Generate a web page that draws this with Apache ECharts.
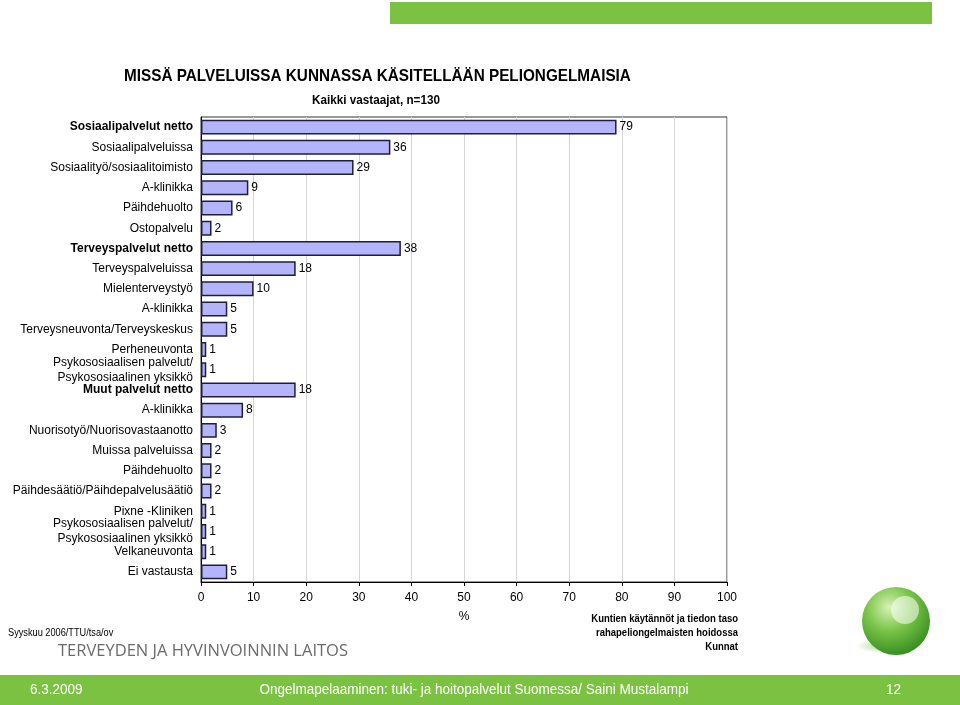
<!DOCTYPE html>
<html>
<head>
<meta charset="utf-8">
<script src="https://cdn.jsdelivr.net/npm/echarts@6/dist/echarts.min.js"></script>
<style>
  html, body { margin: 0; padding: 0; background: #fff; }
  #chart { width: 960px; height: 705px; }
</style>
</head>
<body>
<div id="chart"></div>
<script>
// palvelut (ylhäältä alas)
var categories = [
  'Sosiaalipalvelut netto',
  'Sosiaalipalveluissa',
  'Sosiaalityö/sosiaalitoimisto',
  'A-klinikka',
  'Päihdehuolto',
  'Ostopalvelu',
  'Terveyspalvelut netto',
  'Terveyspalveluissa',
  'Mielenterveystyö',
  'A-klinikka',
  'Terveysneuvonta/Terveyskeskus',
  'Perheneuvonta',
  'Psykososiaalisen palvelut/\nPsykososiaalinen yksikkö',
  'Muut palvelut netto',
  'A-klinikka',
  'Nuorisotyö/Nuorisovastaanotto',
  'Muissa palveluissa',
  'Päihdehuolto',
  'Päihdesäätiö/Päihdepalvelusäätiö',
  'Pixne -Kliniken',
  'Psykososiaalisen palvelut/\nPsykososiaalinen yksikkö',
  'Velkaneuvonta',
  'Ei vastausta'
];
// prosentit
var values = [79, 36, 29, 9, 6, 2, 38, 18, 10, 5, 5, 1, 1, 18, 8, 3, 2, 2, 2, 1, 1, 1, 5];
// lihavoidut "netto" rivit
var boldRows = [0, 6, 13];
var xTicks = [0, 10, 20, 30, 40, 50, 60, 70, 80, 90, 100];

var green = '#7cc242';
var narrow = '"Liberation Sans Narrow", "Liberation Sans"';
var myChart = echarts.init(document.getElementById('chart'));

myChart.setOption({
  animation: false,
  backgroundColor: '#fff',
  grid: {
    left: 201, right: 233, top: 117, bottom: 123,
    show: true, borderColor: '#333', borderWidth: 1
  },
  xAxis: {
    type: 'value',
    min: xTicks[0],
    max: xTicks[xTicks.length - 1],
    interval: 10,
    name: '%',
    nameLocation: 'middle',
    nameGap: 29,
    nameTextStyle: { fontFamily: 'Liberation Sans', fontSize: 12, color: '#000' },
    axisLine: { show: true, lineStyle: { color: '#000', width: 1 } },
    axisTick: { show: true, length: 4, lineStyle: { color: '#000' } },
    axisLabel: { fontFamily: 'Liberation Sans', fontSize: 12, color: '#000', margin: 10 },
    splitLine: { show: true, lineStyle: { color: '#d4d4d4', width: 1 } }
  },
  yAxis: {
    type: 'category',
    inverse: true,
    data: categories,
    axisLine: { show: true, lineStyle: { color: '#000', width: 1 } },
    axisTick: { show: false },
    axisLabel: {
      interval: 0,
      margin: 8,
      formatter: function (v, i) {
        return boldRows.indexOf(i) >= 0 ? '{b|' + v + '}' : '{n|' + v + '}';
      },
      rich: {
        n: { fontFamily: 'Liberation Sans', fontSize: 12, color: '#000', lineHeight: 15, align: 'right' },
        b: { fontFamily: 'Liberation Sans', fontSize: 12, fontWeight: 'bold', color: '#000', lineHeight: 15, align: 'right' }
      }
    }
  },
  series: [{
    type: 'bar',
    data: values,
    barCategoryGap: '26%',
    itemStyle: { color: '#b4b4fb', borderColor: '#1e1e3c', borderWidth: 1.5 },
    label: {
      show: true,
      position: 'right',
      distance: 3,
      fontFamily: 'Liberation Sans',
      fontSize: 12,
      color: '#000'
    }
  }],
  graphic: [
    { type: 'rect', shape: { x: 390, y: 2, width: 542, height: 22 }, style: { fill: green } },
    { type: 'text', x: 124, y: 68, scaleX: 0.9,
      style: { text: 'MISSÄ PALVELUISSA KUNNASSA KÄSITELLÄÄN PELIONGELMAISIA',
        font: 'bold 17px ' + narrow, fill: '#000' } },
    { type: 'text', x: 376, y: 94, scaleX: 0.9,
      style: { text: 'Kaikki vastaajat, n=130', align: 'center',
        font: 'bold 13px ' + narrow, fill: '#000' } },
    { type: 'text', x: 738, y: 612, scaleX: 0.95,
      style: { text: 'Kuntien käytännöt ja tiedon taso\nrahapeliongelmaisten hoidossa\nKunnat',
        font: 'bold 10px ' + narrow, fill: '#000',
        align: 'right', lineHeight: 14 } },
    { type: 'text', x: 8, y: 628, scaleX: 0.92,
      style: { text: 'Syyskuu 2006/TTU/tsa/ov',
        font: '10px ' + narrow, fill: '#000' } },
    { type: 'text', x: 58, y: 643,
      style: { text: 'TERVEYDEN JA HYVINVOINNIN LAITOS',
        font: '16.5px "Open Sans", "DejaVu Sans"', fill: '#6b6b6b' } },
    // logo
    { type: 'circle', shape: { cx: 884, cy: 646, r: 28 },
      scaleY: 0.25, originY: 646,
      style: { fill: { type: 'radial', x: 0.5, y: 0.5, r: 0.5,
        colorStops: [{ offset: 0, color: 'rgba(80,170,40,0.5)' }, { offset: 1, color: 'rgba(80,170,40,0)' }] } } },
    { type: 'circle', shape: { cx: 896, cy: 621, r: 34 },
      style: { fill: { type: 'radial', x: 0.4, y: 0.3, r: 0.75,
        colorStops: [{ offset: 0, color: '#d8f2b8' }, { offset: 0.45, color: '#7cc54a' }, { offset: 1, color: '#2f8a1c' }] } } },
    { type: 'circle', shape: { cx: 905, cy: 610, r: 14 },
      style: { fill: 'rgba(255,255,255,0.55)' } },
    // alapalkki
    { type: 'rect', shape: { x: 0, y: 675, width: 960, height: 30 }, style: { fill: green } },
    { type: 'text', x: 30, y: 682, scaleX: 0.9,
      style: { text: '6.3.2009', font: '15px ' + narrow, fill: '#fff' } },
    { type: 'text', x: 474, y: 682, scaleX: 0.9,
      style: { text: 'Ongelmapelaaminen: tuki- ja hoitopalvelut Suomessa/ Saini Mustalampi',
        font: '15px ' + narrow, fill: '#fff', align: 'center' } },
    { type: 'text', x: 886, y: 682, scaleX: 0.9,
      style: { text: '12', font: '15px ' + narrow, fill: '#fff' } }
  ]
});
</script>
</body>
</html>
